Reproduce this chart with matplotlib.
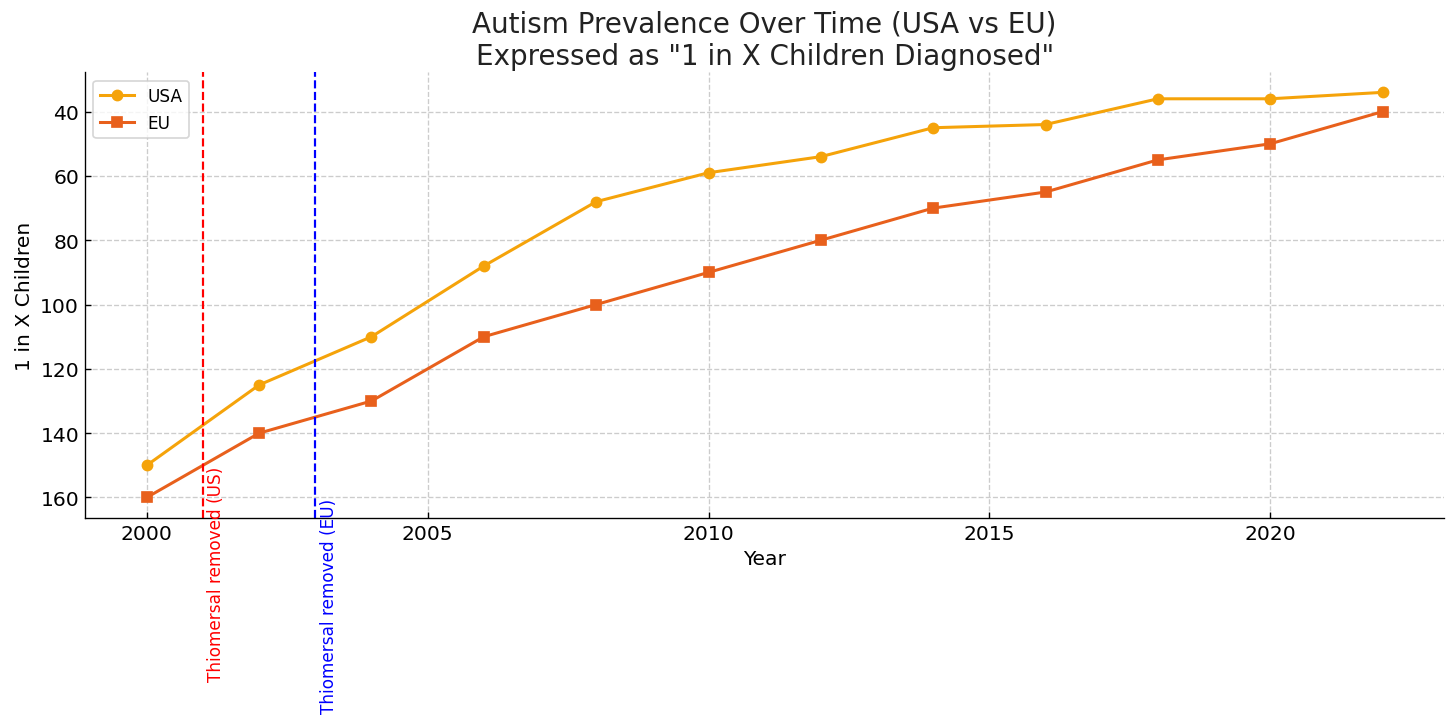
import matplotlib
matplotlib.use("Agg")
import matplotlib.pyplot as plt

years = [2000, 2002, 2004, 2006, 2008, 2010, 2012, 2014, 2016, 2018, 2020, 2022]
usa = [150, 125, 110, 88, 68, 59, 54, 45, 44, 36, 36, 34]
eu = [160, 140, 130, 110, 100, 90, 80, 70, 65, 55, 50, 40]
us_removal_year = 2001
eu_removal_year = 2003

fig = plt.figure(figsize=(12, 6), dpi=121.33)
ax = fig.add_axes([0.0584, 0.2875, 0.9336, 0.6121])

ax.plot(years, usa, marker='o', color='#F5A30A', linewidth=1.8, markersize=6, label='USA')
ax.plot(years, eu, marker='s', color='#E8601C', linewidth=1.8, markersize=6, label='EU')

ax.axvline(us_removal_year, color='red', linestyle='--', linewidth=1.3)
ax.axvline(eu_removal_year, color='blue', linestyle='--', linewidth=1.3)
ax.text(us_removal_year + 0.08, usa[0], 'Thiomersal removed (US)', rotation=90,
        va='top', ha='left', color='red', fontsize=10)
ax.text(eu_removal_year + 0.08, eu[0], 'Thiomersal removed (EU)', rotation=90,
        va='top', ha='left', color='blue', fontsize=10)

ax.invert_yaxis()
ax.set_title('Autism Prevalence Over Time (USA vs EU)\nExpressed as "1 in X Children Diagnosed"',
             fontsize=16.5, color='#222222', pad=5)
ax.set_xlabel('Year', fontsize=12)
ax.set_ylabel('1 in X Children', fontsize=12)
ax.tick_params(axis='both', direction='in', labelsize=12)
ax.grid(True, linestyle='--', color='#cccccc', linewidth=0.8)
ax.spines['top'].set_visible(False)
ax.spines['right'].set_visible(False)
ax.legend(loc='upper left', fontsize=10)

fig.savefig('out.png', dpi=121.33)
